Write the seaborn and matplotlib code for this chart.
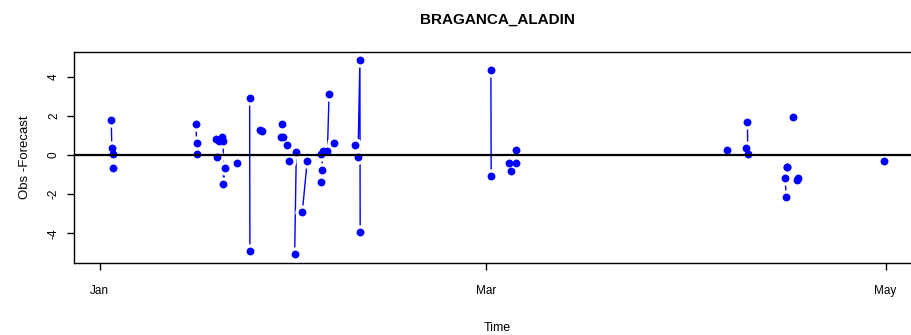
import matplotlib
matplotlib.use("Agg")
import matplotlib.pyplot as plt
import matplotlib.dates as mdates
import pandas as pd
import seaborn as sns

# ---- data -----------------------------------------------------------------
title = "BRAGANCA_ALADIN"
x_label = "Time"
y_label = "Obs -Forecast"

obs_time = [
    "2015-01-02 19:00", "2015-01-02 21:00", "2015-01-03 00:00",
    "2015-01-03 01:00",
    "2015-01-15 17:00", "2015-01-15 20:00", "2015-01-15 22:00",
    "2015-01-18 18:00",
    "2015-01-19 00:00",
    "2015-01-19 05:00",
    "2015-01-19 16:00", "2015-01-19 21:00", "2015-01-19 22:00", "2015-01-20 04:00",
    "2015-01-22 00:00",
    "2015-01-23 22:00", "2015-01-23 23:00",
    "2015-01-25 12:00",
    "2015-01-25 21:00",
    "2015-01-28 16:00",
    "2015-01-28 22:00",
    "2015-01-29 00:00",
    "2015-01-29 15:00",
    "2015-01-29 22:00",
    "2015-01-30 19:00", "2015-01-31 01:00",
    "2015-01-31 23:00", "2015-02-01 17:00",
    "2015-02-03 20:00",
    "2015-02-03 21:00", "2015-02-03 22:00", "2015-02-04 03:00",
    "2015-02-04 19:00", "2015-02-05 01:00",
    "2015-02-05 19:00",
    "2015-02-08 23:00",
    "2015-02-09 11:00", "2015-02-09 18:00", "2015-02-09 19:00",
    "2015-03-01 18:00", "2015-03-01 19:00",
    "2015-03-04 13:00",
    "2015-03-04 19:00",
    "2015-03-05 14:00",
    "2015-03-05 15:00",
    "2015-04-06 20:00",
    "2015-04-09 18:00",
    "2015-04-09 22:00", "2015-04-09 23:00",
    "2015-04-15 15:00", "2015-04-15 21:00",
    "2015-04-15 22:00",
    "2015-04-16 00:00",
    "2015-04-16 22:00",
    "2015-04-17 12:00",
    "2015-04-17 16:00",
    "2015-04-30 17:00",
]

obs_minus_fc = [
    1.77, 0.36, 0.07,
    -0.69,
    1.57, 0.63, 0.07,
    0.80,
    -0.13,
    0.71,
    0.92, 0.71, -1.46, -0.69,
    -0.42,
    2.93, -4.90,
    1.29,
    1.21,
    0.92,
    1.60,
    0.92,
    0.53,
    -0.32,
    -5.08, 0.15,
    -2.91, -0.32,
    0.07,
    -1.38, -0.78, 0.19,
    0.19, 3.10,
    0.63,
    0.53,
    -0.13, 4.83, -3.93,
    4.32, -1.09,
    -0.41,
    -0.82,
    -0.41,
    0.24,
    0.24,
    0.36,
    1.67, 0.04,
    -1.17, -2.14,
    -0.61,
    -0.61,
    1.96,
    -1.29,
    -1.17,
    -0.32,
]

# consecutive observations without missing hours share a run id
run_id = [
    0, 0, 0,
    1,
    2, 2, 2,
    3,
    4,
    5,
    6, 6, 6, 6,
    7,
    8, 8,
    9,
    10,
    11,
    12,
    13,
    14,
    15,
    16, 16,
    17, 17,
    18,
    19, 19, 19,
    20, 20,
    21,
    22,
    23, 23, 23,
    24, 24,
    25,
    26,
    27,
    28,
    29,
    30,
    31, 31,
    32, 32,
    33,
    34,
    35,
    36,
    37,
    38,
]

month_ticks = ["2015-01-01", "2015-03-01", "2015-05-01"]
y_ticks = [-4, -2, 0, 2, 4]

# ---- figure -----------------------------------------------------------------
df = pd.DataFrame({
    "time": pd.to_datetime(obs_time),
    "diff": obs_minus_fc,
    "run": run_id,
})

sns.set_theme(style="white")
plt.rcParams["axes.unicode_minus"] = False
plt.rcParams["text.color"] = "black"
plt.rcParams["axes.labelcolor"] = "black"
fonts = ["Liberation Sans", "DejaVu Sans"]
plt.rcParams["font.family"] = fonts

fig = plt.figure(figsize=(9.12, 3.35), dpi=100)
ax = fig.add_axes([0.081, 0.216, 0.928, 0.629])

blue = "#0000ff"
sns.lineplot(data=df, x="time", y="diff", units="run", estimator=None,
             color=blue, linewidth=1.0, ax=ax, zorder=2, legend=False)
# white halo leaves the small gap between line and point
sns.scatterplot(data=df, x="time", y="diff", color="white", s=105,
                linewidth=0, ax=ax, zorder=3, legend=False)
sns.scatterplot(data=df, x="time", y="diff", color=blue, s=32,
                linewidth=0, ax=ax, zorder=4, legend=False)
ax.axhline(0, color="black", linewidth=1.6, zorder=5)

ax.set_xlim(pd.Timestamp("2014-12-28 02:00"), pd.Timestamp("2015-05-06 07:00"))
ax.set_ylim(-5.5, 5.26)

ax.set_xticks(pd.to_datetime(month_ticks))
ax.xaxis.set_major_formatter(mdates.DateFormatter("%b"))
ax.set_yticks(y_ticks)
ax.set_yticklabels([str(v) for v in y_ticks])

for sp in ax.spines.values():
    sp.set_visible(True)
    sp.set_color("black")
    sp.set_linewidth(1.0)

ax.tick_params(axis="both", direction="out", length=5, width=1.0,
               color="black", labelcolor="black", labelsize=8.5,
               bottom=True, left=True)
ax.tick_params(axis="x", pad=11)
ax.tick_params(axis="y", pad=5, labelrotation=90)
for lab in ax.get_yticklabels():
    lab.set_va("center")

ax.set_xlabel(x_label, fontsize=9, labelpad=18)
ax.set_ylabel(y_label, fontsize=9.5, labelpad=12)
ax.set_title(title, fontsize=11, fontweight="bold", pad=20, color="black")

fig.savefig("out.png", dpi=100)
